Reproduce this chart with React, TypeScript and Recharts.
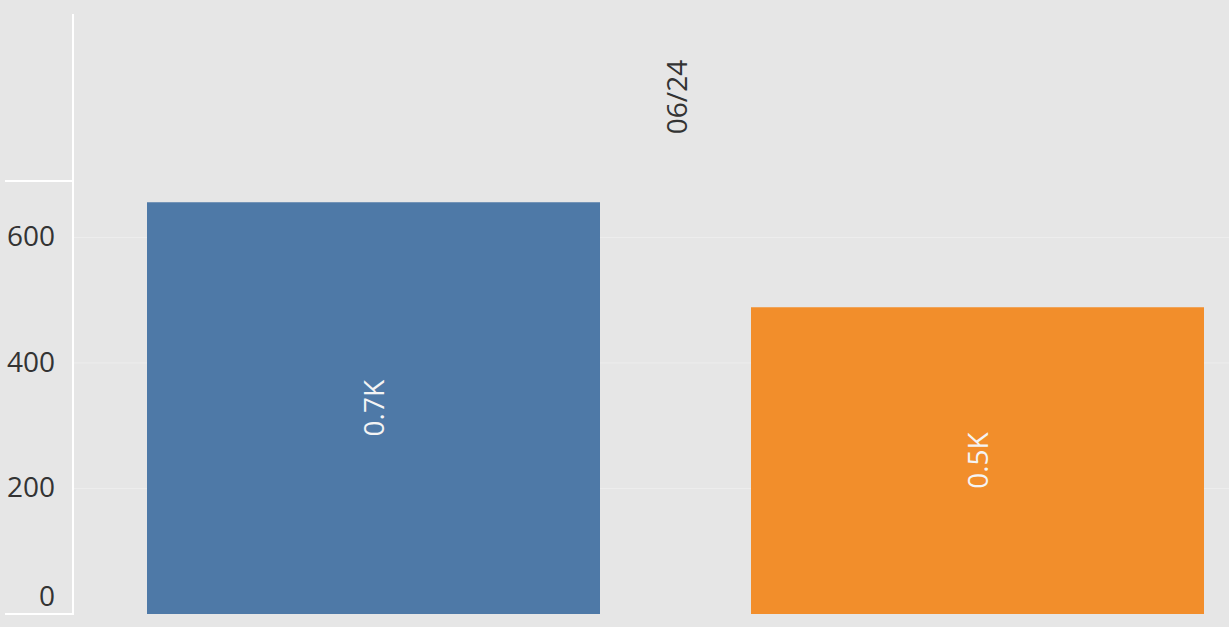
import React from "react";
import {
  BarChart,
  Bar,
  XAxis,
  YAxis,
  CartesianGrid,
  LabelList,
} from "recharts";

// values
const periods = ["06/24"];
const blueValues = [656];
const orangeValues = [489];
const yTicks = [0, 200, 400, 600];

const data = periods.map((p, i) => ({
  period: p,
  blue: blueValues[i],
  orange: orangeValues[i],
}));

const FONT = "'Open Sans', sans-serif";
const BG = "#e6e6e6";
const HEADER_Y = 97;

const fmtK = (v: number) => `${(v / 1000).toFixed(1)}K`;

const PeriodTick = (props: any) => {
  const { x, payload } = props;
  return (
    <text
      x={x}
      y={HEADER_Y}
      transform={`rotate(-90, ${x}, ${HEADER_Y})`}
      textAnchor="middle"
      dominantBaseline="central"
      fontFamily={FONT}
      fontSize={28}
      fill="#333"
    >
      {payload.value}
    </text>
  );
};

const ValueTick = (props: any) => {
  const { y, payload } = props;
  // the zero label sits a bit above the baseline, like the original
  const shift = payload.value === 0 ? -19 : -2;
  return (
    <text
      x={55}
      y={y + shift}
      textAnchor="end"
      dominantBaseline="central"
      fontFamily={FONT}
      fontSize={28}
      fill="#333"
    >
      {payload.value}
    </text>
  );
};

const BarText = (props: any) => {
  const { x, y, width, height, value } = props;
  const cx = x + width / 2;
  const cy = y + height / 2;
  return (
    <text
      x={cx}
      y={cy}
      transform={`rotate(-90, ${cx}, ${cy})`}
      textAnchor="middle"
      dominantBaseline="central"
      fontFamily={FONT}
      fontSize={28}
      fill="#f4f4f4"
    >
      {fmtK(value)}
    </text>
  );
};

const line = (style: React.CSSProperties): React.CSSProperties => ({
  position: "absolute",
  background: "#ffffff",
  ...style,
});

export default function App() {
  return (
    <div
      style={{
        position: "absolute",
        left: 0,
        top: 0,
        width: 1229,
        height: 627,
        overflow: "hidden",
        background: BG,
      }}
    >
      <BarChart
        width={1278}
        height={627}
        data={data}
        margin={{ top: 14, right: 0, bottom: 13, left: 0 }}
        barSize={453}
        barGap={151}
      >
        <CartesianGrid
          vertical={false}
          horizontalValues={[200, 400, 600]}
          stroke="#ededed"
          strokeWidth={1}
        />
        <XAxis
          dataKey="period"
          orientation="top"
          height={167}
          axisLine={false}
          tickLine={false}
          tick={<PeriodTick />}
          interval={0}
        />
        <YAxis
          width={73}
          domain={[0, 690]}
          ticks={yTicks}
          axisLine={false}
          tickLine={false}
          tick={<ValueTick />}
        />
        <Bar dataKey="blue" fill="#4e79a7" isAnimationActive={false}>
          <LabelList dataKey="blue" content={<BarText />} />
        </Bar>
        <Bar dataKey="orange" fill="#f28e2b" isAnimationActive={false}>
          <LabelList dataKey="orange" content={<BarText />} />
        </Bar>
      </BarChart>
      <div style={line({ left: 72, top: 14, width: 2, height: 601 })} />
      <div style={line({ left: 5, top: 180, width: 69, height: 2 })} />
      <div style={line({ left: 5, top: 613, width: 69, height: 2 })} />
    </div>
  );
}
